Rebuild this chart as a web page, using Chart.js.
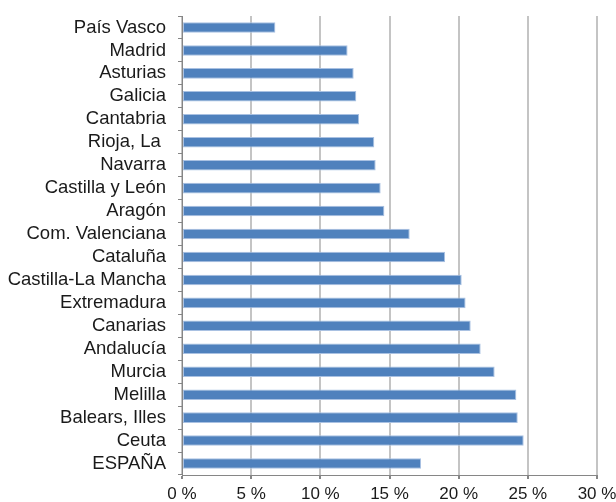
<!DOCTYPE html>
<html>
<head>
<meta charset="utf-8">
<script src="https://cdn.jsdelivr.net/npm/chart.js@4"></script>
<style>
  html, body { margin: 0; padding: 0; background: #fff; }
  #wrap { width: 616px; height: 502px; }
</style>
</head>
<body>
<div id="wrap"><canvas id="grafico"></canvas></div>
<script>
// Comunidades autónomas (de arriba abajo)
const comunidades = [
  "País Vasco", "Madrid", "Asturias", "Galicia", "Cantabria", "Rioja, La ",
  "Navarra", "Castilla y León", "Aragón", "Com. Valenciana", "Cataluña",
  "Castilla-La Mancha", "Extremadura", "Canarias", "Andalucía", "Murcia",
  "Melilla", "Balears, Illes", "Ceuta", "ESPAÑA"
];
// Porcentaje (%)
const porcentajes = [
  6.75, 11.97, 12.41, 12.6, 12.8, 13.9,
  14.0, 14.36, 14.63, 16.46, 19.02,
  20.22, 20.5, 20.87, 21.59, 22.6,
  24.17, 24.27, 24.7, 17.28
];
const ejeMin = 0, ejeMax = 30, ejePaso = 5;

document.addEventListener('DOMContentLoaded', function() {
  const ctx = document.getElementById('grafico').getContext('2d');
  new Chart(ctx, {
    type: 'bar',
    data: {
      labels: comunidades,
      datasets: [{
        data: porcentajes,
        backgroundColor: '#4f81bd',
        borderColor: '#a9c1e2',
        borderWidth: 1,
        borderSkipped: false,
        barPercentage: 0.46,
        categoryPercentage: 1
      }]
    },
    options: {
      indexAxis: 'y',
      responsive: true,
      maintainAspectRatio: false,
      animation: false,
      layout: { padding: { left: 0, right: 19, top: 16, bottom: 0 } },
      plugins: {
        legend: { display: false },
        tooltip: { enabled: false }
      },
      scales: {
        x: {
          min: ejeMin,
          max: ejeMax,
          ticks: {
            stepSize: ejePaso,
            color: '#1a1a1a',
            font: { family: 'Liberation Sans, Arial, sans-serif', size: 17 },
            padding: 5,
            maxRotation: 0,
            callback: v => v + ' %'
          },
          grid: { color: '#c4c4c4', lineWidth: 2, tickLength: 4, tickColor: '#868686' },
          border: { color: '#868686', width: 1 },
          afterFit: s => { s.height = 27; s.paddingLeft = 0; s.paddingRight = 0; }
        },
        y: {
          grid: { offset: true, drawOnChartArea: false, tickLength: 4, color: '#868686' },
          border: { color: '#868686', width: 1 },
          ticks: {
            autoSkip: false,
            color: '#1a1a1a',
            font: { family: 'Liberation Sans, Arial, sans-serif', size: 18.5 },
            padding: 12
          },
          afterFit: s => { s.width = 182; s.paddingTop = 0; s.paddingBottom = 0; }
        }
      }
    }
  });
});
</script>
</body>
</html>
